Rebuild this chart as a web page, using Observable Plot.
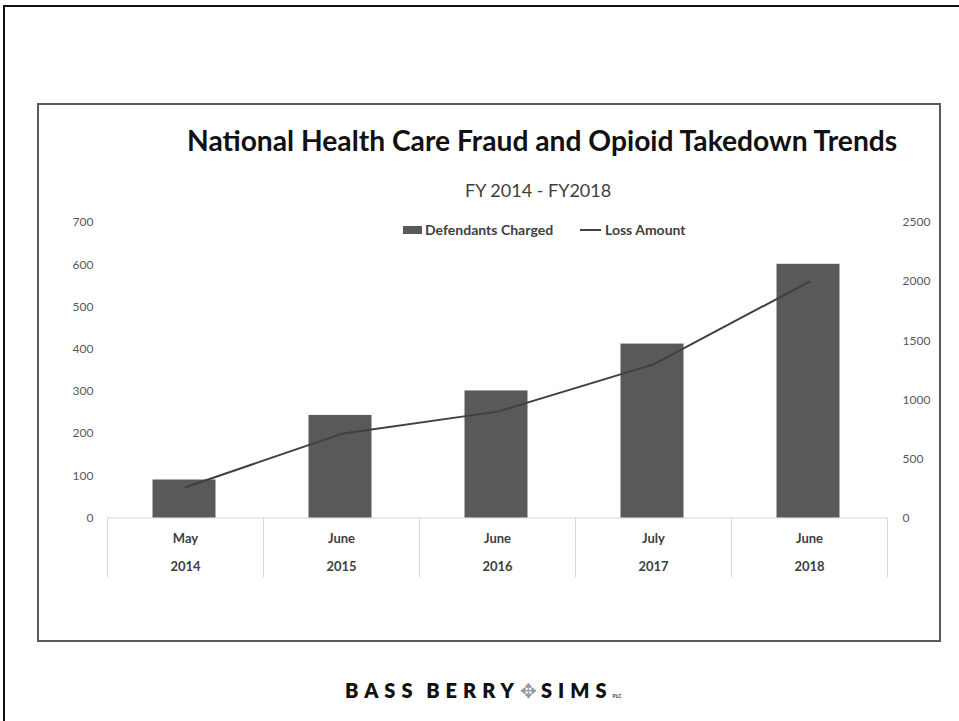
<!DOCTYPE html>
<html>
<head>
<meta charset="utf-8">
<script src="https://cdn.jsdelivr.net/npm/d3@7"></script>
<script src="https://cdn.jsdelivr.net/npm/@observablehq/plot@0.6"></script>
<style>
html, body { margin: 0; padding: 0; background: #fff; overflow: hidden; }
#page { position: relative; width: 959px; height: 721px; overflow: hidden; font-family: Lato, "Open Sans", sans-serif; }
#outer { position: absolute; left: 3px; top: 5px; width: 1100px; height: 900px; border-top: 2px solid #111; border-left: 2px solid #111; }
#box { position: absolute; left: 37px; top: 103px; width: 900px; height: 535px; border: 2px solid #5a5a5a; }
#chart { position: absolute; left: 0; top: 200px; }
.t { position: absolute; white-space: nowrap; line-height: 1; }
#title { top: 126px; font-weight: 700; font-size: 26px; color: #111; }
#subtitle { top: 181px; font-size: 18px; color: #404040; }
.leg { position: absolute; top: 223px; font-size: 13.5px; font-weight: 700; color: #404040; line-height: 14px; }
#sw1 { position: absolute; left: 403px; top: 226px; width: 19px; height: 8px; background: #595959; }
#sw2 { position: absolute; left: 580px; top: 229px; width: 21px; height: 2px; background: #404040; }
#footer { left: 345px; font-weight: 800; font-size: 17px; letter-spacing: 6px; word-spacing: -3px; color: #111; }
#footer .star { color: #999; font-weight: 400; letter-spacing: 4px; }
#footer .plc { font-size: 5px; letter-spacing: 0; color: #555; }
</style>
</head>
<body>
<div id="page">
  <div id="outer"></div>
  <div id="box"></div>
  <div id="title" class="t">National Health Care Fraud and Opioid Takedown Trends</div>
  <div id="subtitle" class="t">FY 2014 - FY2018</div>
  <div id="sw1"></div><div id="leg1" class="leg" style="left:425px">Defendants Charged</div>
  <div id="sw2"></div><div id="leg2" class="leg" style="left:604px">Loss Amount</div>
  <div id="chart"></div>
  <div id="footer" class="t">BASS BERRY<span class="star">✥</span>SIMS<span class="plc">PLC</span></div>
</div>
<script>
const months = ["May", "June", "June", "July", "June"];
const years = ["2014", "2015", "2016", "2017", "2018"];
const defendants = [90, 243, 301, 412, 601];
const lossAmount = [260, 712, 900, 1300, 2000];
const leftTicks = [0, 100, 200, 300, 400, 500, 600, 700];
const rightTicks = [0, 500, 1000, 1500, 2000, 2500];
const leftMax = 700, rightMax = 2500;

const data = years.map((y, i) => ({year: y, month: months[i], defendants: defendants[i], loss: lossAmount[i]}));
const ratio = leftMax / rightMax;
const band = (887 - 107) / years.length;

const plot = Plot.plot({
  width: 959,
  height: 400,
  marginLeft: 107,
  marginRight: 72,
  marginTop: 22,
  marginBottom: 82.5,
  style: {fontFamily: "Lato, 'Open Sans', sans-serif", background: "transparent", overflow: "visible"},
  x: {type: "band", domain: years, padding: 0, axis: null},
  y: {domain: [0, leftMax], axis: null},
  marks: [
    Plot.ruleY([0], {stroke: "#d9d9d9", strokeWidth: 1}),
    Plot.ruleX(data, {x: "year", y1: 0, y2: -142, dx: -band / 2, stroke: "#d9d9d9"}),
    Plot.ruleX(data.slice(-1), {x: "year", y1: 0, y2: -142, dx: band / 2, stroke: "#d9d9d9"}),
    Plot.barY(data, {x: "year", y: "defendants", fill: "#595959", insetLeft: 45.5, insetRight: 47.5}),
    Plot.lineY(data, {x: "year", y: d => d.loss * ratio, stroke: "#404040", strokeWidth: 2}),
    Plot.axisY(leftTicks, {anchor: "left", tickSize: 0, tickPadding: 14, fontSize: 12, color: "#595959", label: null}),
    Plot.text(rightTicks, {y: d => d * ratio, frameAnchor: "right", dx: 15, textAnchor: "start", fontSize: 12, fill: "#595959", text: d => String(d)}),
    Plot.text(data, {x: "year", y: 0, text: "month", dy: 20.5, fontSize: 13, fontWeight: "bold", fill: "#404040"}),
    Plot.text(data, {x: "year", y: 0, text: "year", dy: 48.5, fontSize: 13, fontWeight: "bold", fill: "#404040"})
  ]
});
document.getElementById("chart").appendChild(plot);

function fit(id, left, right) {
  const el = document.getElementById(id);
  const fs = parseFloat(getComputedStyle(el).fontSize);
  el.style.fontSize = (fs * (right - left) / el.offsetWidth) + "px";
  el.style.left = left + "px";
}
fit("title", 187, 897);
fit("leg1", 425, 553);
fit("leg2", 605, 686);
const sub = document.getElementById("subtitle");
sub.style.left = (538 - sub.offsetWidth / 2) + "px";
fit("footer", 345, 638);
const foot = document.getElementById("footer");
foot.style.top = (690 - foot.offsetHeight / 2) + "px";
</script>
</body>
</html>
